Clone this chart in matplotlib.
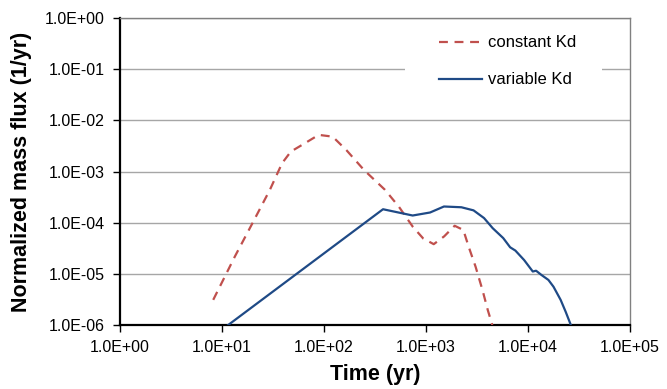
import matplotlib
matplotlib.use("Agg")
import matplotlib.pyplot as plt
from matplotlib.patches import Rectangle

plt.rcParams['font.family'] = ['Liberation Sans', 'DejaVu Sans']

# constant Kd (red dashed)
const_t = [8.2, 13.4, 19.9, 29.5, 38.8, 47.3, 64.7, 88.7, 121.6, 166.3, 246.6,
           395.5, 542.0, 743.0, 939.8, 1191, 1507, 1910, 2323, 2618, 3062, 3581, 4036, 4467]
const_f = [3.1e-6, 2.2e-5, 9.8e-5, 4.4e-4, 1.45e-3, 2.45e-3, 3.55e-3, 5.2e-3, 4.8e-3,
           2.6e-3, 1.07e-3, 4.4e-4, 2.05e-4, 8.3e-5, 4.9e-5, 3.8e-5, 5.4e-5, 8.7e-5,
           7.2e-5, 3.4e-5, 1.38e-5, 4.8e-6, 1.95e-6, 1.0e-6]

# variable Kd (blue solid)
var_t = [11.5, 379, 740, 1096, 1500, 2223, 2924, 3707, 4508, 5715, 6683, 7516, 9162,
         11140, 12000, 13550, 15850, 17780, 20890, 23440, 26300]
var_f = [1.0e-6, 1.83e-4, 1.38e-4, 1.58e-4, 2.07e-4, 2.0e-4, 1.74e-4, 1.23e-4, 7.8e-5,
         5.0e-5, 3.3e-5, 2.85e-5, 1.86e-5, 1.11e-5, 1.15e-5, 9.5e-6, 7.6e-6, 5.6e-6,
         3.1e-6, 1.8e-6, 1.0e-6]

x_ticks = [1e0, 1e1, 1e2, 1e3, 1e4, 1e5]
x_labels = ['1.0E+00', '1.0E+01', '1.0E+02', '1.0E+03', '1.0E+04', '1.0E+05']
y_ticks = [1e-6, 1e-5, 1e-4, 1e-3, 1e-2, 1e-1, 1e0]
y_labels = ['1.0E-06', '1.0E-05', '1.0E-04', '1.0E-03', '1.0E-02', '1.0E-01', '1.0E+00']

fig = plt.figure(figsize=(6.67, 3.89), dpi=100)
ax = fig.add_axes([120/667, 1-325/389, 510/667, 307/389])

ax.set_xscale('log')
ax.set_yscale('log')
ax.set_xlim(1e0, 1e5)
ax.set_ylim(1e-6, 1e0)

ax.plot(const_t, const_f, color='#C0504D', lw=1.6, dashes=(4, 3), label='constant Kd', zorder=3)
ax.plot(var_t, var_f, color='#1F4A86', lw=1.6, label='variable Kd', zorder=3)

ax.set_xticks(x_ticks)
ax.set_xticklabels(x_labels)
ax.set_yticks(y_ticks)
ax.set_yticklabels(y_labels)
ax.minorticks_off()
ax.tick_params(axis='both', which='major', direction='out', length=5, width=1,
               labelsize=11.5, pad=6, color='black')

ax.set_axisbelow(True)
ax.yaxis.grid(True, color='#a6a6a6', lw=1.0)
ax.xaxis.grid(False)

for s in ['left', 'bottom']:
    ax.spines[s].set_color('black')
    ax.spines[s].set_linewidth(1.6)
for s in ['top', 'right']:
    ax.spines[s].set_color('#808080')
    ax.spines[s].set_linewidth(1.0)

# white mask behind the legend
ax.add_patch(Rectangle((0.559, 0.74), 0.386, 0.24, transform=ax.transAxes,
                       facecolor='white', edgecolor='none', zorder=1))

leg = ax.legend(loc='upper left', bbox_to_anchor=(0.619, 0.954), frameon=False,
                fontsize=12, handlelength=2.6, handletextpad=0.36, labelspacing=1.32,
                borderaxespad=0.0, borderpad=0.2)

ax.set_xlabel('Time (yr)', fontsize=15.5, fontweight='bold', labelpad=6)
ax.set_ylabel('Normalized mass flux (1/yr)', fontsize=15.5, fontweight='bold', labelpad=9)

fig.savefig('out.png', dpi=100)
